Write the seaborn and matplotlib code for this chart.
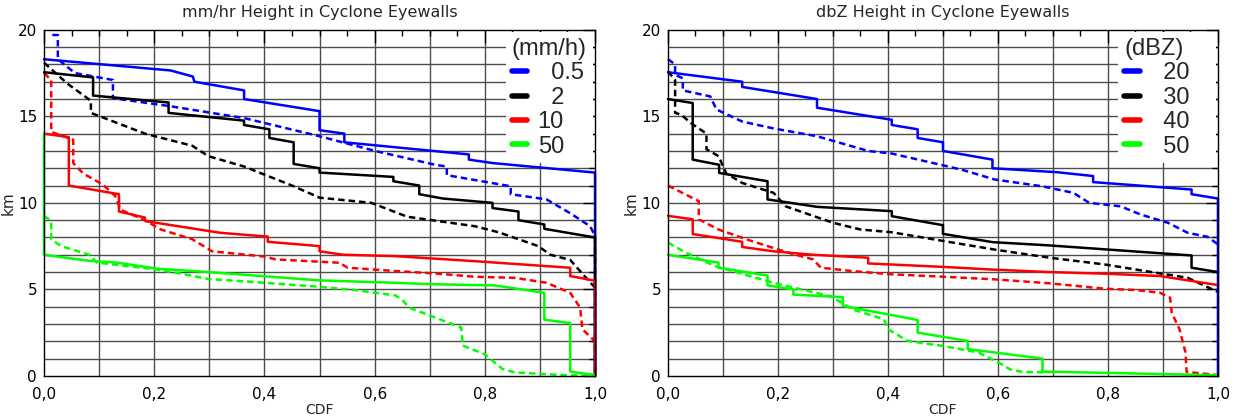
import pandas as pd
import matplotlib
matplotlib.use("Agg")
import matplotlib.pyplot as plt
from matplotlib.lines import Line2D
from matplotlib.ticker import MultipleLocator, FuncFormatter
import seaborn as sns

# left panel: rain rate thresholds (mm/h), (CDF, km) pairs; solid and dashed curves
rain_levels = ["0.5", "2", "10", "50"]
rain_labels = ["  0.5", "  2", "10", "50"]

rain_05_solid = [(0, 18.3), (0.23, 17.65), (0.27, 17.3), (0.273, 17.0), (0.363, 16.5), (0.363, 16.0),
                 (0.5, 15.3), (0.5, 14.2), (0.545, 14.0), (0.545, 13.5), (0.771, 12.8), (0.771, 12.5),
                 (0.814, 12.3), (1.0, 11.75), (1.0, 0)]
rain_05_dash = [(0.015, 19.7), (0.025, 19.7), (0.025, 18.3), (0.056, 17.5), (0.125, 17.1), (0.125, 16.05),
                (0.226, 15.6), (0.363, 14.9), (0.5, 13.85), (0.601, 13.0), (0.71, 12.2), (0.731, 12.1),
                (0.731, 11.6), (0.847, 10.96), (0.847, 10.5), (0.912, 10.2), (0.955, 9.4), (0.991, 8.65),
                (1.0, 8.1), (1.0, 0)]
rain_2_solid = [(0, 17.55), (0.089, 17.25), (0.089, 16.2), (0.226, 15.8), (0.226, 15.2), (0.363, 14.75),
                (0.363, 14.5), (0.409, 14.25), (0.409, 13.75), (0.453, 13.5), (0.453, 12.25), (0.5, 12.0),
                (0.5, 11.75), (0.634, 11.5), (0.634, 11.25), (0.681, 11.0), (0.681, 10.5), (0.724, 10.25),
                (0.814, 10.0), (0.814, 9.7), (0.861, 9.5), (0.861, 9.0), (0.908, 8.75), (0.908, 8.5),
                (1.0, 8.0), (1.0, 0)]
rain_2_dash = [(0, 18.1), (0.042, 16.9), (0.085, 15.9), (0.085, 15.2), (0.183, 14.0), (0.269, 13.3),
               (0.298, 12.7), (0.363, 12.1), (0.45, 11.0), (0.5, 10.3), (0.594, 10.0), (0.659, 9.2),
               (0.782, 8.65), (0.825, 8.3), (0.897, 7.5), (0.919, 7.0), (0.955, 6.7), (0.98, 5.8),
               (1.0, 5.1), (1.0, 0)]
rain_10_solid = [(0, 14.0), (0.045, 13.8), (0.045, 11.0), (0.136, 10.5), (0.136, 9.5), (0.183, 9.15),
                 (0.183, 8.95), (0.32, 8.27), (0.406, 8.05), (0.406, 7.75), (0.5, 7.5), (0.5, 7.2),
                 (0.544, 7.0), (0.638, 6.92), (0.782, 6.63), (0.955, 6.25), (0.955, 5.77), (1.0, 5.5),
                 (1.0, 0)]
rain_10_dash = [(0, 17.5), (0.013, 17.1), (0.013, 14.1), (0.053, 13.65), (0.053, 12.3), (0.071, 11.7),
                (0.107, 11.05), (0.129, 10.4), (0.139, 9.6), (0.183, 9.0), (0.212, 8.46), (0.269, 7.9),
                (0.305, 7.2), (0.399, 6.9), (0.421, 6.73), (0.536, 6.54), (0.551, 6.25), (0.638, 6.06),
                (0.71, 5.92), (0.782, 5.73), (0.854, 5.67), (0.912, 5.38), (0.955, 4.8), (0.973, 3.94),
                (0.977, 2.7), (1.0, 2.0), (1.0, 0)]
rain_50_solid = [(0, 14.0), (0, 7.0), (0.082, 6.65), (0.132, 6.55), (0.204, 6.2), (0.298, 6.0), (0.5, 5.52),
                 (0.638, 5.38), (0.703, 5.3), (0.818, 5.23), (0.908, 4.8), (0.908, 3.25), (0.955, 3.05),
                 (0.955, 0.25), (1.0, 0.05)]
rain_50_dash = [(0, 9.25), (0.013, 8.95), (0.013, 7.9), (0.031, 7.5), (0.082, 7.0), (0.096, 6.55),
                (0.204, 6.15), (0.255, 5.87), (0.298, 5.6), (0.392, 5.4), (0.5, 5.15), (0.565, 4.96),
                (0.638, 4.65), (0.652, 4.33), (0.663, 3.94), (0.71, 3.37), (0.757, 2.8), (0.76, 1.75),
                (0.8, 1.25), (0.832, 0.4), (0.854, 0.2), (0.941, 0.05), (1.0, 0.0)]

# right panel: reflectivity thresholds (dBZ)
dbz_levels = ["20", "30", "40", "50"]
dbz_labels = ["  20   ", "  30   ", "  40   ", "  50   "]

dbz_20_solid = [(0, 17.55), (0.135, 17.0), (0.135, 16.7), (0.271, 16.0), (0.271, 15.5), (0.407, 14.8),
                (0.407, 14.5), (0.454, 14.25), (0.454, 13.75), (0.5, 13.5), (0.5, 13.0), (0.59, 12.5),
                (0.59, 12.0), (0.708, 11.77), (0.773, 11.55), (0.773, 11.2), (0.952, 10.77), (0.952, 10.5),
                (1.0, 10.25), (1.0, 0)]
dbz_20_dash = [(0, 18.3), (0.013, 18.0), (0.013, 17.4), (0.027, 17.2), (0.027, 16.5), (0.077, 16.15),
               (0.088, 15.4), (0.135, 14.7), (0.192, 14.3), (0.271, 13.85), (0.364, 13.0), (0.407, 12.85),
               (0.5, 12.17), (0.536, 11.9), (0.594, 11.35), (0.68, 10.96), (0.737, 10.58), (0.766, 10.0),
               (0.823, 9.8), (0.859, 9.33), (0.909, 8.85), (0.945, 8.27), (0.981, 8.04), (1.0, 7.6)]
dbz_30_solid = [(0, 16.0), (0.045, 15.77), (0.045, 12.5), (0.093, 12.2), (0.093, 11.73), (0.181, 11.25),
                (0.181, 10.2), (0.271, 9.77), (0.407, 9.52), (0.407, 9.23), (0.5, 8.71), (0.5, 8.21),
                (0.59, 7.73), (0.694, 7.54), (0.952, 6.96), (0.952, 6.25), (1.0, 6.0)]
dbz_30_dash = [(0, 17.6), (0.013, 17.1), (0.013, 15.2), (0.024, 15.1), (0.042, 14.6), (0.07, 14.0),
               (0.07, 13.1), (0.092, 12.7), (0.106, 11.7), (0.135, 11.15), (0.192, 10.58), (0.214, 9.8),
               (0.3, 8.85), (0.35, 8.46), (0.407, 8.3), (0.5, 7.8), (0.594, 7.3), (0.694, 6.83),
               (0.794, 6.44), (0.895, 5.92), (0.945, 5.67), (1.0, 4.85)]
dbz_40_solid = [(0, 9.25), (0.045, 9.05), (0.045, 8.2), (0.135, 7.75), (0.135, 7.45), (0.192, 7.2),
                (0.264, 7.0), (0.364, 6.83), (0.364, 6.5), (0.5, 6.3), (0.586, 6.15), (0.694, 6.0),
                (0.801, 5.9), (0.895, 5.77), (1.0, 5.25)]
dbz_40_dash = [(0, 11.0), (0.056, 10.1), (0.056, 9.05), (0.092, 8.46), (0.142, 7.9), (0.181, 7.5),
               (0.221, 7.1), (0.264, 6.73), (0.278, 6.25), (0.335, 6.06), (0.407, 5.87), (0.5, 5.73),
               (0.594, 5.58), (0.694, 5.35), (0.794, 5.04), (0.852, 4.96), (0.895, 4.8), (0.913, 4.52),
               (0.916, 3.65), (0.93, 2.7), (0.941, 1.35), (0.943, 0.23), (1.0, 0.05)]
dbz_50_solid = [(0, 7.0), (0.092, 6.55), (0.092, 6.25), (0.181, 5.8), (0.181, 5.23), (0.228, 5.0),
                (0.228, 4.7), (0.318, 4.55), (0.318, 4.05), (0.454, 3.23), (0.454, 2.5), (0.545, 2.02),
                (0.545, 1.55), (0.681, 1.0), (0.681, 0.25), (1.0, 0.04)]
dbz_50_dash = [(0, 7.7), (0.034, 7.1), (0.085, 6.35), (0.149, 5.77), (0.192, 5.38), (0.242, 5.0),
               (0.296, 4.6), (0.335, 3.85), (0.393, 3.27), (0.4, 2.7), (0.436, 2.02), (0.5, 1.73),
               (0.565, 1.35), (0.601, 0.77), (0.622, 0.38), (0.644, 0.23), (0.694, 0.2)]
# blue 20 dBZ curve closes down the right edge
dbz_20_edge = [(1.0, 10.25), (1.0, 0)]

colors = ["#0000ff", "#000000", "#ff0000", "#00ff00"]

rows = []
def add(panel, level, kind, pts):
    for x, y in pts:
        rows.append({"panel": panel, "level": level, "kind": kind, "cdf": x, "km": y})

for lev, s, d in zip(rain_levels,
                     [rain_05_solid, rain_2_solid, rain_10_solid, rain_50_solid],
                     [rain_05_dash, rain_2_dash, rain_10_dash, rain_50_dash]):
    add("rain", lev, "solid", s)
    add("rain", lev, "dashed", d)
for lev, s, d in zip(dbz_levels,
                     [dbz_20_solid, dbz_30_solid, dbz_40_solid, dbz_50_solid],
                     [dbz_20_dash, dbz_30_dash, dbz_40_dash, dbz_50_dash]):
    add("dbz", lev, "solid", s)
    add("dbz", lev, "dashed", d)
df = pd.DataFrame(rows)

sns.set_style("white")
plt.rcParams['font.family'] = ['DejaVu Sans']

fig = plt.figure(figsize=(12.34, 4.2), dpi=100)
ax1 = fig.add_axes([0.0357, 0.105, 0.4465, 0.824])
ax2 = fig.add_axes([0.5413, 0.105, 0.4457, 0.824])

comma = FuncFormatter(lambda v, p: f"{v:.1f}".replace(".", ","))

panels = [
    (ax1, "rain", rain_levels, rain_labels, "(mm/h)", "mm/hr Height in Cyclone Eyewalls", -0.051),
    (ax2, "dbz", dbz_levels, dbz_labels, "(dBZ)", "dbZ Height in Cyclone Eyewalls", -0.053),
]

for ax, key, levels, labels, leg_title, title, ylab_x in panels:
    sub = df[df["panel"] == key]
    # dashed first, solid on top
    for kind, dash in [("dashed", (2.6, 1.6)), ("solid", "")]:
        part = sub[sub["kind"] == kind]
        sns.lineplot(data=part, x="cdf", y="km", hue="level", hue_order=levels,
                     palette=dict(zip(levels, colors)), units="level", estimator=None,
                     sort=False, dashes=False, legend=False, lw=1.8, ax=ax,
                     clip_on=False)
        if dash:
            for ln in ax.lines[-len(levels):]:
                ln.set_dashes(dash)
    if key == "dbz":
        ax.plot([p[0] for p in dbz_20_edge], [p[1] for p in dbz_20_edge],
                color=colors[0], lw=1.2, clip_on=False)

    ax.set_xlim(0, 1)
    ax.set_ylim(0, 20)
    ax.xaxis.set_major_locator(MultipleLocator(0.2))
    ax.xaxis.set_minor_locator(MultipleLocator(0.05))
    ax.yaxis.set_major_locator(MultipleLocator(5))
    ax.yaxis.set_minor_locator(MultipleLocator(1))
    ax.xaxis.set_major_formatter(comma)
    for v in [i / 10 for i in range(1, 10)]:
        ax.axvline(v, color="0.3", lw=1.0, zorder=0.5)
    for v in range(1, 20):
        ax.axhline(v, color="0.3", lw=1.0, zorder=0.5)
    ax.tick_params(which="both", direction="in", top=True, right=True, colors="black",
                   labelsize=11)
    ax.tick_params(axis="x", pad=8)
    ax.tick_params(axis="y", pad=5)
    ax.tick_params(which="major", length=9, width=1)
    ax.tick_params(which="minor", length=4, width=1)
    for sp in ax.spines.values():
        sp.set_color("black")
        sp.set_linewidth(1)
    ax.set_title(title, fontsize=11.5, pad=9)
    ax.set_xlabel("CDF", fontsize=10, labelpad=1)
    ax.set_ylabel("km", fontsize=11)
    ax.yaxis.set_label_coords(ylab_x, 0.5)

    handles = [Line2D([], [], color=c, lw=4) for c in colors]
    leg = ax.legend(handles, labels, title=leg_title, loc="upper right",
                    prop={"family": "Liberation Sans", "size": 17},
                    title_fontproperties={"family": "Liberation Sans", "size": 17},
                    frameon=True, facecolor="white", edgecolor="none", framealpha=1,
                    fancybox=False, handlelength=0.65, handletextpad=0.45,
                    labelspacing=0.1, borderpad=0.25, borderaxespad=0.1)
    leg._legend_box.align = "left"
    leg.set_zorder(1)

fig.savefig("out.png", dpi=100)
